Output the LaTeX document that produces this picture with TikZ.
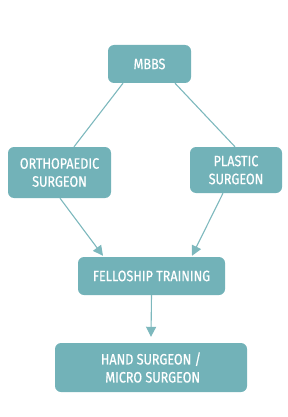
\documentclass[tikz,border=0pt]{standalone}
\usepackage{fontspec}
\newfontfamily\boxfont[FakeStretch=0.84,FakeBold=0.6]{Fira Sans}
\usetikzlibrary{calc,arrows.meta}
\definecolor{teal1}{HTML}{72B2B8}
\definecolor{teal2}{HTML}{7DB8BD}
\tikzset{
  stepbox/.style={fill=teal1, rounded corners=6pt, text=white, font=\boxfont\fontsize{15}{18}\selectfont, align=center, inner sep=0pt},
  conn/.style={draw=teal2, line width=1.1pt},
  arr/.style={conn, -{Triangle[length=10pt,width=10pt]}}
}
\begin{document}
\begin{tikzpicture}[x=1pt,y=-1pt]
\useasboundingbox (0,0) rectangle (288,417);
\node[stepbox, minimum width=83pt, minimum height=38pt] (mbbs) at (149.5,64) {MBBS};
\node[stepbox, minimum width=103pt, minimum height=51pt] (ortho) at (59.5,172.5) {ORTHOPAEDIC\\SURGEON};
\node[stepbox, minimum width=92pt, minimum height=46pt] (plastic) at (236,170) {PLASTIC\\SURGEON};
\node[stepbox, minimum width=147pt, minimum height=38pt] (fell) at (151.5,276) {FELLOSHIP TRAINING};
\node[stepbox, minimum width=192pt, minimum height=49pt] (hand) at (151,367.5) {HAND SURGEON /\\\ MICRO SURGEON};
\draw[conn] ($(mbbs.south)+(-26.5,0)$) -- ($(ortho.north)+(14.5,0)$);
\draw[conn] ($(mbbs.south)+(25.5,0)$) -- ($(plastic.north)+(-1,0)$);
\draw[arr] ($(ortho.south)+(0.5,0)$) -- ($(fell.north)+(-48.5,-1)$);
\draw[arr] ($(plastic.south)+(-13,0)$) -- ($(fell.north)+(40.5,-1)$);
\draw[arr] (fell.south) -- ($(hand.north)+(0,-6)$);
\end{tikzpicture}
\end{document}
